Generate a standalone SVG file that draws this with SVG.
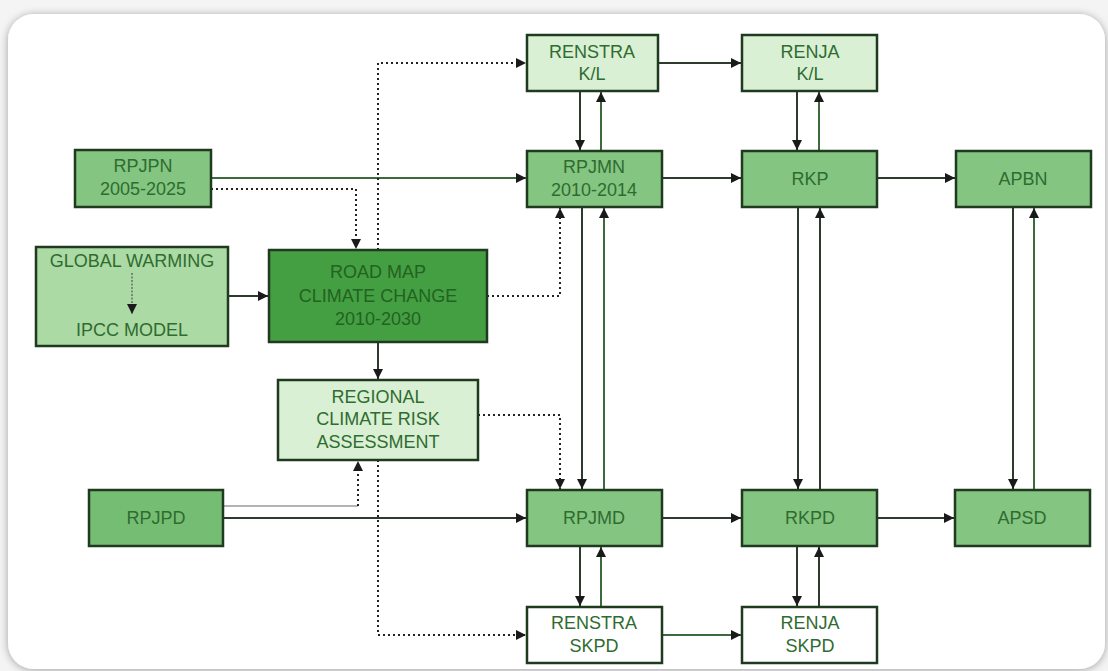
<svg xmlns="http://www.w3.org/2000/svg" width="1108" height="671" viewBox="0 0 1108 671">
  <style>
    .box { stroke: #1f3a1f; stroke-width: 2.5; }
    .light { fill: #d9f0d5; }
    .mid { fill: #83c581; }
    .midd { fill: #76bd74; }
    .gw { fill: #abdaa5; }
    .dark { fill: #449f43; }
    .white { fill: #ffffff; }
    .t { font-family: "Liberation Sans", Arial, sans-serif; font-size: 18px; fill: #2f6c2f; text-anchor: middle; }
    .td { font-family: "Liberation Sans", Arial, sans-serif; font-size: 18px; fill: #23621f; text-anchor: middle; }
    .s { fill: none; stroke: #2f3a2f; stroke-width: 2; }
    .sg { fill: none; stroke: #3d6a3d; stroke-width: 2; }
    .d { fill: none; stroke: #222; stroke-width: 2; stroke-dasharray: 2 3; }
    .dl { fill: none; stroke: #9a9a9a; stroke-width: 1.5; }
  </style>
  <defs>
    <marker id="ah" viewBox="0 0 10 10" refX="10" refY="5" markerWidth="10" markerHeight="10" markerUnits="userSpaceOnUse" orient="auto">
      <path d="M0,0 L10,5 L0,10 z" fill="#1a1a1a"/>
    </marker>
    <filter id="sh" x="-5%" y="-5%" width="110%" height="110%">
      <feGaussianBlur in="SourceAlpha" stdDeviation="4"/>
      <feOffset dx="0" dy="1"/>
      <feComponentTransfer><feFuncA type="linear" slope="0.35"/></feComponentTransfer>
      <feMerge><feMergeNode/><feMergeNode in="SourceGraphic"/></feMerge>
    </filter>
  </defs>
  <rect x="0" y="0" width="1108" height="671" fill="#f4f4f4"/>
  <rect x="8" y="14" width="1097" height="655" rx="26" ry="26" fill="#ffffff" filter="url(#sh)"/>

  <g id="connectors">
    <path class="s" d="M657,63 H741" marker-end="url(#ah)"/>
    <path class="s" d="M580,91 V150" marker-end="url(#ah)"/>
    <path class="sg" d="M601,151 V92" marker-end="url(#ah)"/>
    <path class="s" d="M797,91 V150" marker-end="url(#ah)"/>
    <path class="sg" d="M819,151 V92" marker-end="url(#ah)"/>
    <path class="sg" d="M211,178 H526" marker-end="url(#ah)"/>
    <path class="s" d="M662,178 H741" marker-end="url(#ah)"/>
    <path class="s" d="M877,178 H955" marker-end="url(#ah)"/>
    <path class="d" d="M211,189 H356 V249" marker-end="url(#ah)"/>
    <path class="d" d="M378,250 V63 H526" marker-end="url(#ah)"/>
    <path class="s" d="M228,296 H268" marker-end="url(#ah)"/>
    <path class="d" d="M487,296 H560 V208" marker-end="url(#ah)"/>
    <path class="s" d="M378,342 V379" marker-end="url(#ah)"/>
    <path class="s" d="M582,207 V489" marker-end="url(#ah)"/>
    <path class="sg" d="M604,490 V208" marker-end="url(#ah)"/>
    <path class="s" d="M798,207 V489" marker-end="url(#ah)"/>
    <path class="s" d="M820,490 V208" marker-end="url(#ah)"/>
    <path class="s" d="M1013,207 V489" marker-end="url(#ah)"/>
    <path class="sg" d="M1034,490 V208" marker-end="url(#ah)"/>
    <path class="d" d="M478,415 H560 V489" marker-end="url(#ah)"/>
    <path class="dl" d="M223,506 H358"/>
    <path class="d" d="M358,506 V461" marker-end="url(#ah)"/>
    <path class="s" d="M223,518 H526" marker-end="url(#ah)"/>
    <path class="s" d="M662,518 H741" marker-end="url(#ah)"/>
    <path class="s" d="M877,518 H954" marker-end="url(#ah)"/>
    <path class="d" d="M378,460 V635 H526" marker-end="url(#ah)"/>
    <path class="s" d="M580,546 V606" marker-end="url(#ah)"/>
    <path class="sg" d="M601,607 V547" marker-end="url(#ah)"/>
    <path class="s" d="M797,546 V606" marker-end="url(#ah)"/>
    <path class="s" d="M819,607 V547" marker-end="url(#ah)"/>
    <path class="sg" d="M662,635 H741" marker-end="url(#ah)"/>
  </g>

  <g id="renstra-kl">
    <rect class="box light" x="527" y="35" width="131" height="56"/>
    <text class="t" x="592" y="58">RENSTRA</text>
    <text class="t" x="592" y="80">K/L</text>
  </g>
  <g id="renja-kl">
    <rect class="box light" x="742" y="35" width="135" height="56"/>
    <text class="t" x="810" y="58">RENJA</text>
    <text class="t" x="810" y="80">K/L</text>
  </g>
  <g id="rpjpn">
    <rect class="box mid" x="75" y="150" width="136" height="57"/>
    <text class="t" x="143" y="172">RPJPN</text>
    <text class="t" x="143" y="195">2005-2025</text>
  </g>
  <g id="rpjmn">
    <rect class="box mid" x="527" y="151" width="135" height="56"/>
    <text class="t" x="594" y="173">RPJMN</text>
    <text class="t" x="594" y="196">2010-2014</text>
  </g>
  <g id="rkp">
    <rect class="box mid" x="742" y="151" width="135" height="56"/>
    <text class="t" x="810" y="185">RKP</text>
  </g>
  <g id="apbn">
    <rect class="box mid" x="956" y="151" width="135" height="56"/>
    <text class="t" x="1023" y="185">APBN</text>
  </g>
  <g id="global-warming">
    <rect class="box gw" x="36" y="247" width="192" height="99"/>
    <text class="t" x="132" y="267">GLOBAL WARMING</text>
    <path d="M132,273 V314" stroke="#555" stroke-width="1.2" stroke-dasharray="2 1.5" fill="none" marker-end="url(#ah)"/>
    <text class="t" x="132" y="336">IPCC MODEL</text>
  </g>
  <g id="road-map">
    <rect class="box dark" x="269" y="250" width="218" height="92"/>
    <text class="td" x="378" y="278">ROAD MAP</text>
    <text class="td" x="378" y="302">CLIMATE CHANGE</text>
    <text class="td" x="378" y="325">2010-2030</text>
  </g>
  <g id="regional">
    <rect class="box light" x="278" y="380" width="200" height="80"/>
    <text class="t" x="378" y="403">REGIONAL</text>
    <text class="t" x="378" y="425">CLIMATE RISK</text>
    <text class="t" x="378" y="448">ASSESSMENT</text>
  </g>
  <g id="rpjpd">
    <rect class="box midd" x="89" y="490" width="134" height="56"/>
    <text class="t" x="156" y="524">RPJPD</text>
  </g>
  <g id="rpjmd">
    <rect class="box mid" x="527" y="490" width="135" height="56"/>
    <text class="t" x="594" y="524">RPJMD</text>
  </g>
  <g id="rkpd">
    <rect class="box mid" x="742" y="490" width="135" height="56"/>
    <text class="t" x="810" y="524">RKPD</text>
  </g>
  <g id="apsd">
    <rect class="box mid" x="955" y="490" width="135" height="56"/>
    <text class="t" x="1022" y="524">APSD</text>
  </g>
  <g id="renstra-skpd">
    <rect class="box white" x="527" y="607" width="135" height="56"/>
    <text class="t" x="594" y="629">RENSTRA</text>
    <text class="t" x="594" y="652">SKPD</text>
  </g>
  <g id="renja-skpd">
    <rect class="box white" x="742" y="607" width="135" height="56"/>
    <text class="t" x="810" y="629">RENJA</text>
    <text class="t" x="810" y="652">SKPD</text>
  </g>
</svg>
